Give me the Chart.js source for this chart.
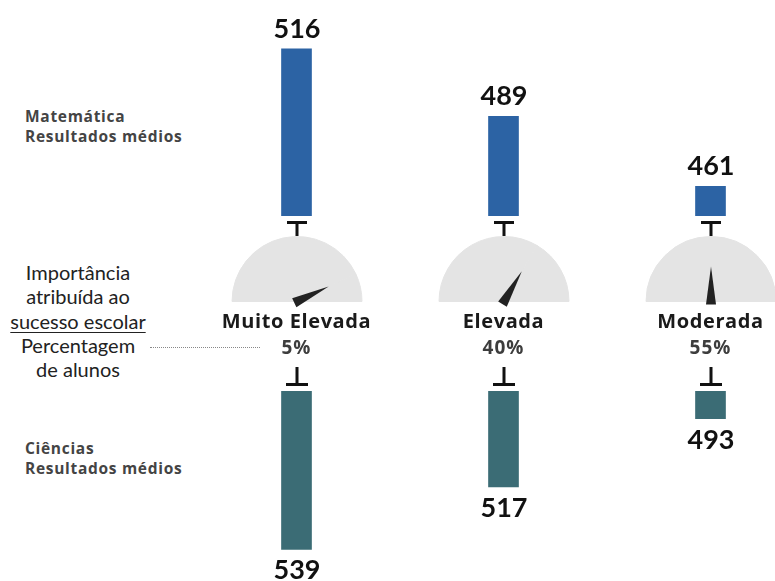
<!DOCTYPE html>
<html lang="pt">
<head>
<meta charset="utf-8">
<script src="https://cdn.jsdelivr.net/npm/chart.js@4.4.1/dist/chart.umd.min.js"></script>
<style>
  html, body { margin: 0; padding: 0; background: #fff; }
  #wrap { position: relative; width: 775px; height: 581px; overflow: hidden; background: #fff; }
  #wrap canvas { position: absolute; }
  .side { position: absolute; left: 25px; font: 700 15.5px/20px "Open Sans", sans-serif; letter-spacing: 0.7px; color: #444; white-space: nowrap; }
  .legend { position: absolute; left: 0; width: 156px; top: 260px; text-align: center; font: 400 20px/24.3px Lato, sans-serif; color: #222; }
  .legend u { text-decoration-thickness: 1px; text-underline-offset: 3px; }
  .dots { position: absolute; left: 150px; top: 347px; width: 110px; border-top: 1px dotted #888; }
  .cat, .pct { position: absolute; transform: translateX(-50%); white-space: nowrap; }
  .cat { font: 700 20px/1 "Open Sans", sans-serif; letter-spacing: 0.6px; color: #1a1a1a; top: 311px; }
  .pct { font: 700 19px/1 "Open Sans", sans-serif; letter-spacing: 1px; color: #3d3d3d; top: 338px; }
</style>
</head>
<body>
<div id="wrap">
  <canvas id="mathChart" width="621" height="240" style="left:193px; top:0px;"></canvas>
  <canvas id="sciChart" width="621" height="221" style="left:193px; top:360px;"></canvas>
  <div class="side" style="top:106px;">Matemática<br>Resultados médios</div>
  <div class="side" style="top:438px;">Ciências<br>Resultados médios</div>
  <div class="legend">Importância<br>atribuída ao<br><u>sucesso escolar</u><br>Percentagem<br>de alunos</div>
  <div class="dots"></div>
</div>
<script>
// data
const categories = ['Muito Elevada', 'Elevada', 'Moderada'];
const studentShare = ['5%', '40%', '55%'];
const mathScores = [516, 489, 461];
const scienceScores = [539, 517, 493];
// needle position on each gauge, percent of the half circle from the left
const gaugeLevel = [86, 67, 50];

const wrap = document.getElementById('wrap');

const barExtras = {
  id: 'barExtras',
  afterDraw(chart, args, opts) {
    const ctx = chart.ctx;
    const area = chart.chartArea;
    const meta = chart.getDatasetMeta(0);
    ctx.save();
    ctx.fillStyle = '#111';
    ctx.font = 'bold 27px Lato';
    ctx.textAlign = 'center';
    ctx.textBaseline = 'alphabetic';
    meta.data.forEach((bar, i) => {
      const val = chart.data.datasets[0].data[i];
      const x = Math.round(bar.x);
      if (opts.side === 'top') {
        ctx.fillText(val, x, bar.y - 10);
        ctx.fillRect(x - 10, area.bottom + 5, 20, 3);
        ctx.fillRect(x - 1.5, area.bottom + 8, 3, 12);
      } else {
        ctx.fillText(val, x, bar.y + 29);
        ctx.fillRect(x - 11, area.top - 8, 22, 3);
        ctx.fillRect(x - 1.5, area.top - 24, 3, 16);
      }
    });
    ctx.restore();
  }
};

function barChart(id, values, color, yMin, yMax, reverse, side) {
  return new Chart(document.getElementById(id), {
    type: 'bar',
    data: {
      labels: categories,
      datasets: [{
        data: values,
        backgroundColor: color,
        borderColor: 'rgba(255,255,255,0.3)',
        borderWidth: 1,
        barThickness: 32
      }]
    },
    options: {
      responsive: false,
      animation: false,
      events: [],
      layout: { padding: side === 'top' ? { bottom: 24 } : { top: 31 } },
      scales: {
        x: { display: false },
        y: { display: false, min: yMin, max: yMax, reverse: reverse }
      },
      plugins: {
        legend: { display: false },
        tooltip: { enabled: false },
        barExtras: { side: side }
      }
    },
    plugins: [barExtras]
  });
}

const mathChart = barChart('mathChart', mathScores, '#2c63a4', 448.7, 535.1, false, 'top');
barChart('sciChart', scienceScores, '#3b6c75', 482.9, 549.8, true, 'bottom');

const needle = {
  id: 'needle',
  afterDatasetsDraw(chart) {
    const arc = chart.getDatasetMeta(0).data[0];
    const ctx = chart.ctx;
    const a = arc.endAngle;
    const dx = Math.cos(a), dy = Math.sin(a);
    const px = -dy, py = dx;
    const bx = arc.x - 3 * dx, by = arc.y - 3 * dy;
    ctx.save();
    ctx.fillStyle = '#222';
    ctx.beginPath();
    ctx.moveTo(bx + 5 * px, by + 5 * py);
    ctx.lineTo(bx - 5 * px, by - 5 * py);
    ctx.lineTo(arc.x + 35 * dx, arc.y + 35 * dy);
    ctx.closePath();
    ctx.fill();
    ctx.restore();
  }
};

const colX = mathChart.getDatasetMeta(0).data.map(b => 193 + b.x);

colX.forEach((cx, i) => {
  const c = document.createElement('canvas');
  c.width = 132;
  c.height = 72;
  c.style.left = (cx - 66) + 'px';
  c.style.top = '236px';
  wrap.appendChild(c);
  new Chart(c, {
    type: 'pie',
    data: {
      labels: ['nível', ''],
      datasets: [{
        data: [gaugeLevel[i], 100 - gaugeLevel[i]],
        backgroundColor: '#e4e4e4',
        borderColor: '#e4e4e4',
        borderWidth: 1,
        hoverOffset: 0
      }]
    },
    options: {
      responsive: false,
      animation: false,
      events: [],
      rotation: -90,
      circumference: 180,
      layout: { padding: { bottom: 6 } },
      plugins: { legend: { display: false }, tooltip: { enabled: false } }
    },
    plugins: [needle]
  });

  const cat = document.createElement('div');
  cat.className = 'cat';
  cat.style.left = cx + 'px';
  cat.textContent = categories[i];
  wrap.appendChild(cat);

  const pct = document.createElement('div');
  pct.className = 'pct';
  pct.style.left = cx + 'px';
  pct.textContent = studentShare[i];
  wrap.appendChild(pct);
});
</script>
</body>
</html>
